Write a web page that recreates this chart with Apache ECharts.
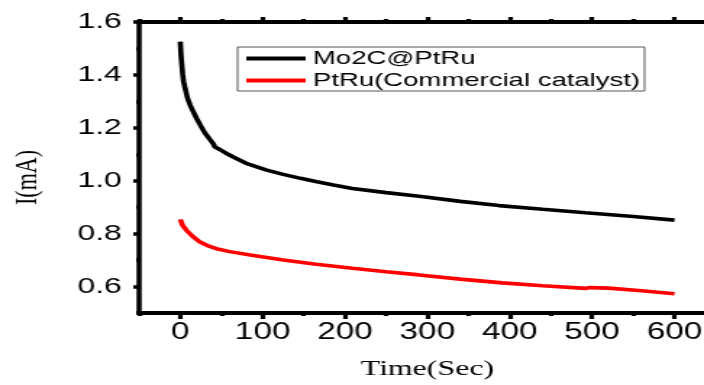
<!DOCTYPE html>
<html>
<head>
<meta charset="utf-8">
<script src="https://cdn.jsdelivr.net/npm/echarts@6/dist/echarts.min.js"></script>
<style>
html,body{margin:0;padding:0;background:#fff;overflow:hidden;width:704px;height:385px;}
#c{width:494px;height:385px;transform:scaleX(1.4486);transform-origin:0 0;}
</style>
</head>
<body>
<div id="c"></div>
<script>
// Data
var seriesNames = ['Mo2C@PtRu', 'PtRu(Commercial catalyst)'];
var moTime = [0,1,2,3,4,6,9,12,16,20,24,30,35,40,42,48,55,65,80,105,125,146,166,186,209,250,290,340,387,440,492,550,600];
var moCurrent = [1.526,1.47,1.434,1.40,1.375,1.348,1.31,1.286,1.26,1.235,1.212,1.18,1.16,1.14,1.128,1.118,1.105,1.089,1.066,1.04,1.024,1.009,0.996,0.984,0.971,0.955,0.941,0.922,0.906,0.892,0.879,0.865,0.851];
var ptTime = [0,3,8,15,24,33,44,60,85,125,165,209,250,290,340,391,440,492,497,520,560,600];
var ptCurrent = [0.854,0.83,0.811,0.79,0.768,0.755,0.743,0.732,0.719,0.70,0.684,0.669,0.656,0.644,0.628,0.614,0.603,0.593,0.596,0.594,0.584,0.573];
var xTicks = [0,100,200,300,400,500,600];
var xMinorTicks = [-50,50,150,250,350,450,550,650];
var yTicks = [0.6,0.8,1.0,1.2,1.4,1.6];
var yMinorTicks = [0.5,0.7,0.9,1.1,1.3,1.5];

function pairs(xs, ys){ return xs.map(function(x,i){ return [x, ys[i]]; }); }

var chart = echarts.init(document.getElementById('c'));
var sansFont = 'Liberation Sans, Arial, sans-serif';
var serifFont = 'Liberation Serif, Times New Roman, serif';
function xAx(pos, vals, len, showLine, showLabel){
  return {
    type:'value', position:pos, min:-50, max:650,
    splitLine:{show:false},
    axisLine:{show:showLine, onZero:false, lineStyle:{color:'#000', width:4}},
    axisTick:{show:true, customValues:vals, length:len, lineStyle:{color:'#000', width:3.2}},
    axisLabel:{show:showLabel, customValues:vals, margin:8, formatter:function(v){return String(v);}, fontFamily:sansFont, fontSize:23, color:'#000'},
    name: showLabel ? 'Time(Sec)' : '',
    nameLocation:'middle', nameGap:45,
    nameTextStyle:{fontFamily:serifFont, fontSize:22, color:'#000'}
  };
}
function yAx(vals, len, showLine, showLabel){
  return {
    type:'value', position:'left', min:0.5, max:1.6,
    splitLine:{show:false},
    axisLine:{show:showLine, onZero:false, lineStyle:{color:'#000', width:3.5}},
    axisTick:{show:true, customValues:vals, length:len, lineStyle:{color:'#000', width:3.5}},
    axisLabel:{show:showLabel, customValues:vals, margin:12, formatter:function(v){return v.toFixed(1);}, fontFamily:sansFont, fontSize:22, color:'#000'},
    name: showLabel ? 'I(mA)' : '',
    nameLocation:'middle', nameGap:66,
    nameTextStyle:{fontFamily:serifFont, fontSize:22, color:'#000', padding:[0,20,0,0]}
  };
}

chart.setOption({
  backgroundColor:'#fff',
  animation:false,
  grid:{left:95.8, right:0, top:22, bottom:66, containLabel:false},
  xAxis:[
    xAx('bottom', xTicks, 6, true, true),
    xAx('bottom', xMinorTicks, 3, false, false),
    xAx('top', xTicks, 5, true, false),
    xAx('top', xMinorTicks, 3, false, false)
  ],
  yAxis:[
    yAx(yTicks, 4, true, true),
    yAx(yMinorTicks, 2, false, false)
  ],
  legend:{
    orient:'vertical', left:164, top:47,
    data:seriesNames,
    itemWidth:41, itemHeight:14, itemGap:3,
    padding:[2,3,1,6],
    borderColor:'#555', borderWidth:1,
    textStyle:{fontFamily:sansFont, fontSize:19, color:'#000'},
    icon:'path://M0,5 L41,5 L41,9 L0,9 Z'
  },
  series:[
    {name:seriesNames[0], type:'line', data:pairs(moTime, moCurrent), showSymbol:false, symbol:'none',
     lineStyle:{color:'#000', width:3.6}, itemStyle:{color:'#000'}, xAxisIndex:0, yAxisIndex:0},
    {name:seriesNames[1], type:'line', data:pairs(ptTime, ptCurrent), showSymbol:false, symbol:'none',
     lineStyle:{color:'#ff0000', width:3.6}, itemStyle:{color:'#ff0000'}, xAxisIndex:0, yAxisIndex:0}
  ]
});
</script>
</body>
</html>
